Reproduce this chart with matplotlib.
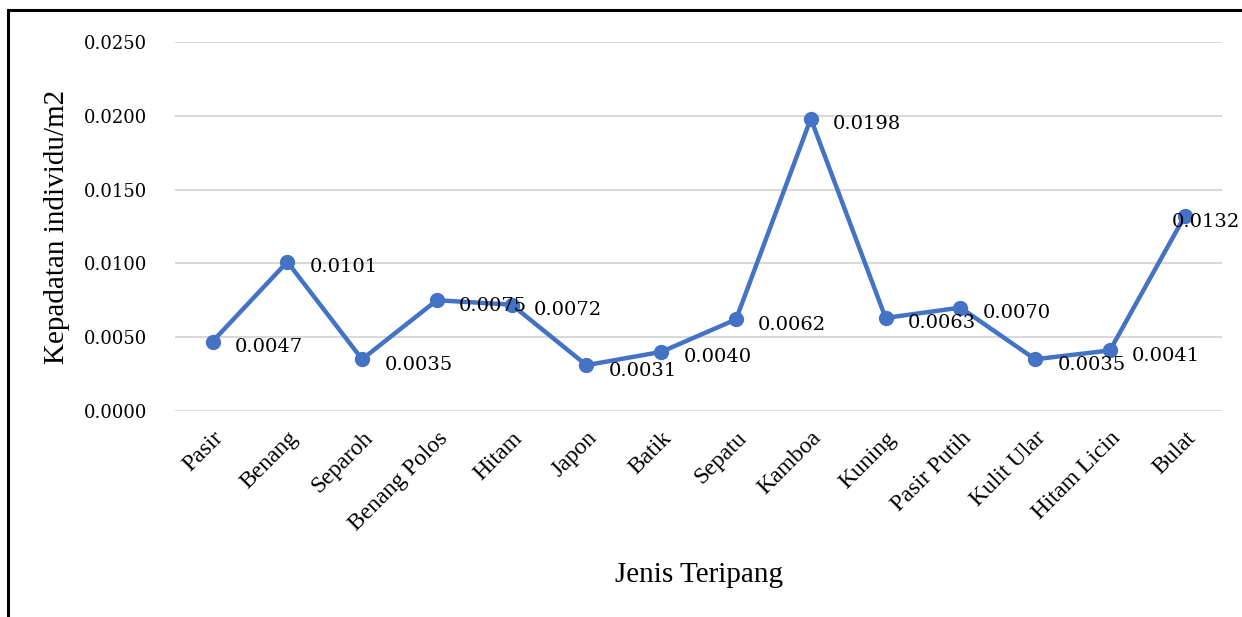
#!/usr/bin/env python3
"""Kepadatan individu teripang per jenis (line chart)."""

import matplotlib.pyplot as plt
from matplotlib.lines import Line2D

LINE = "#4472C4"
GRID = "#D9D9D9"
TEXT = "#000000"
WORD_FONT = ["Liberation Serif", "DejaVu Serif"]
NUM_FONT = ["DejaVu Serif"]

categories = ["Pasir", "Benang", "Separoh", "Benang Polos", "Hitam", "Japon", "Batik",
              "Sepatu", "Kamboa", "Kuning", "Pasir Putih", "Kulit Ular", "Hitam Licin", "Bulat"]
density = [0.0047, 0.0101, 0.0035, 0.0075, 0.0072, 0.0031, 0.0040,
           0.0062, 0.0198, 0.0063, 0.0070, 0.0035, 0.0041, 0.0132]
yticks = [0.0, 0.005, 0.010, 0.015, 0.020, 0.025]

plt.rcParams["font.family"] = WORD_FONT

fig = plt.figure(figsize=(12.42, 6.17), dpi=100)
ax = fig.add_axes([0.141, 0.334, 0.843, 0.598])

x = list(range(len(categories)))
ax.plot(x, density, color=LINE, linewidth=3.2, marker="o", markersize=10,
        solid_joinstyle="round", zorder=3)

for i, (xi, v) in enumerate(zip(x, density)):
    last = i == len(x) - 1
    ax.annotate(f"{v:.4f}", (xi, v), xytext=(40 if last else 16, -4),
                textcoords="offset points", ha="right" if last else "left", va="center",
                fontsize=14, family=NUM_FONT, color=TEXT, annotation_clip=False, zorder=4)

ax.set_xlim(-0.5, len(categories) - 0.5)
ax.set_ylim(0, 0.025)
ax.set_yticks(yticks)
ax.set_yticklabels([f"{t:.4f}" for t in yticks], fontsize=13, family=NUM_FONT, color=TEXT)
ax.set_xticks(x)
ax.set_xticklabels(categories, rotation=45, ha="right", va="top", rotation_mode="anchor",
                   fontsize=17, color=TEXT)
ax.tick_params(axis="y", length=0, pad=20)
ax.tick_params(axis="x", length=0, pad=12)

ax.grid(axis="y", color=GRID, linewidth=1.5)
ax.set_axisbelow(True)
for side in ("top", "right", "left", "bottom"):
    ax.spines[side].set_visible(False)

ax.set_xlabel("Jenis Teripang", fontsize=21, color=TEXT)
ax.set_ylabel("Kepadatan individu/m2", fontsize=21, color=TEXT)
ax.xaxis.set_label_coords(0.5, -0.41)
ax.yaxis.set_label_coords(-0.10, 0.5)

# frame lines of the source document (top and left edges)
fig.add_artist(Line2D([8 / 1242, 8 / 1242], [0, 1 - 10 / 617], color="black", linewidth=2.2))
fig.add_artist(Line2D([8 / 1242, 1], [1 - 10 / 617, 1 - 10 / 617], color="black", linewidth=2.2))

fig.savefig("out.png", dpi=100)
